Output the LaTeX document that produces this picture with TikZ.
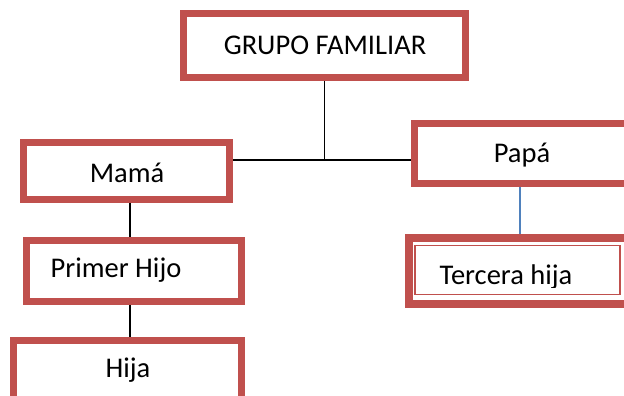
\documentclass[tikz,border=0pt]{standalone}
\usepackage{fontspec}
\setmainfont{Carlito}
\definecolor{boxred}{HTML}{C0504D}
\definecolor{lineblue}{HTML}{4F81BD}
\begin{document}
\begin{tikzpicture}[x=1pt,y=1pt,
  redbox/.style={draw=boxred,line width=7pt,rectangle,inner sep=0pt,fill=white},
  lbl/.style={anchor=base,inner sep=0pt,font=\fontsize{28.5}{31}\selectfont},
  conn/.style={draw=black,line width=1.2pt}]
\useasboundingbox (0,0) rectangle (624,396);
\clip (0,0) rectangle (624,396);
\coordinate (j) at (324.5,236);
\coordinate (cl) at (130,0);
\coordinate (cr) at (520,0);
% boxes
\node[redbox,minimum width=282pt,minimum height=64pt] (grupo) at (324.5,350.5) {};
\node[redbox,minimum width=206pt,minimum height=57pt] (mama) at (126.5,225) {};
\node[redbox,minimum width=215pt,minimum height=61pt] (primer) at (134,125) {};
\node[redbox,minimum width=228pt,minimum height=79pt] (hija) at (127.5,16) {};
\node[redbox,minimum width=226pt,minimum height=60pt] (papa) at (527,242.5) {};
\node[redbox,line width=8pt,minimum width=232pt,minimum height=66pt] (tercera) at (525,125) {};
\node[draw=boxred,line width=1.2pt,rectangle,inner sep=0pt,minimum width=205pt,minimum height=49pt] (terin) at (517.5,126) {};
% connectors
\draw[conn] (grupo.south) -- (j);
\draw[conn] (mama.east |- j) -- (papa.west |- j);
\draw[conn] (mama.south -| cl) -- (primer.north -| cl);
\draw[conn] (primer.south -| cl) -- (hija.north -| cl);
\draw[draw=lineblue,line width=1.2pt] (papa.south -| cr) -- (tercera.north -| cr);
% labels
\node[lbl] (tg) at (325,341) {GRUPO FAMILIAR};
\node[lbl] (tm) at (127,213) {Mamá};
\node[lbl] (tp) at (116,118) {Primer Hijo};
\node[lbl] (th) at (128,18) {Hija};
\node[lbl] (tpa) at (522,233) {Papá};
\begin{scope}
\clip (417,108) rectangle (619,150);
\node[lbl] (tt) at (506,111) {Tercera hija};
\end{scope}
\end{tikzpicture}
\end{document}
